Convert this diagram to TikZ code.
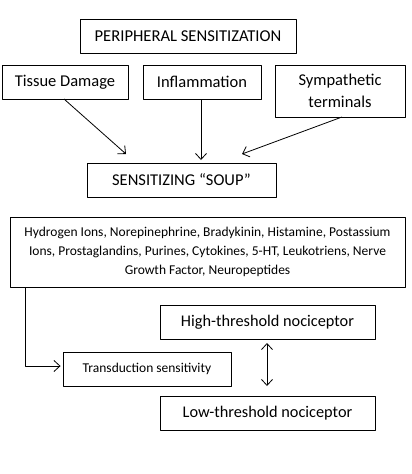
\documentclass[tikz,border=0pt]{standalone}
\usepackage{fontspec}
\setmainfont{Carlito}
\usetikzlibrary{arrows.meta}
\begin{document}
\begin{tikzpicture}[x=1pt, y=-1pt, line join=round, >={Straight Barb[length=6pt,width=11pt]}]
	\tikzset{box/.style={draw, line width=0.9pt, inner sep=0pt, align=center},
		link/.style={->, line width=0.8pt}}
	\useasboundingbox (0,0) rectangle (412,474);
	% boxes
	\node[box, minimum width=216pt, minimum height=34pt, font=\fontsize{16.6}{19}\selectfont] (periph) at (188,36) {PERIPHERAL SENSITIZATION};
	\node[box, minimum width=126pt, minimum height=34pt, font=\fontsize{16.5}{19}\selectfont] (tissue) at (65,82) {Tissue Damage};
	\node[box, minimum width=118pt, minimum height=34pt, font=\fontsize{16.5}{19}\selectfont] (inflam) at (202,82) {Inflammation};
	\node[box, minimum width=130pt, minimum height=52pt, font=\fontsize{16.5}{22}\selectfont] (symp) at (340,91) {Sympathetic\\terminals};
	\node[box, minimum width=189pt, minimum height=34pt, font=\fontsize{16.5}{19}\selectfont] (soup) at (181.5,180) {SENSITIZING ``SOUP''};
	\node[box, minimum width=395pt, minimum height=70pt, font=\fontsize{13.5}{19}\selectfont] (list) at (207.5,252) {Hydrogen Ions, Norepinephrine, Bradykinin, Histamine, Postassium\\Ions, Prostaglandins, Purines, Cytokines, 5-HT, Leukotriens, Nerve\\Growth Factor, Neuropeptides};
	\node[box, minimum width=215pt, minimum height=34pt, font=\fontsize{16.3}{20}\selectfont] (high) at (267.5,322) {High-threshold nociceptor};
	\node[box, minimum width=168pt, minimum height=34pt, font=\fontsize{13.5}{16}\selectfont] (trans) at (147,369) {Transduction sensitivity};
	\node[box, minimum width=215pt, minimum height=34pt, font=\fontsize{16.3}{20}\selectfont] (low) at (267.5,413) {Low-threshold nociceptor};
	% arrows
	\coordinate (tissueend) at (126,154);
	\coordinate (inflamend) at (201,160);
	\coordinate (sympend) at (242,154);
	\draw[link] (64,99) -- (tissueend);
	\draw[link] (inflam.south -| inflamend) -- (inflamend);
	\draw[link] (342,117) -- (sympend);
	\draw[link] ([xshift=16pt]list.south west) |- ([xshift=-2pt, yshift=3pt]trans.west);
	\draw[<->, line width=0.8pt] (267,343) -- (267,386);
\end{tikzpicture}
\end{document}
